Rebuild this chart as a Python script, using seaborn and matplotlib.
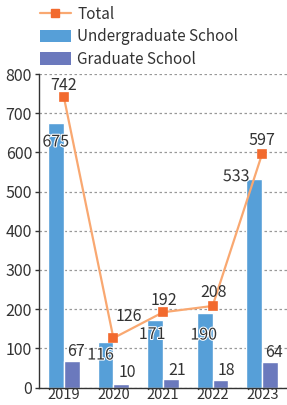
import matplotlib
matplotlib.use("Agg")
import matplotlib.pyplot as plt
import matplotlib.patheffects as pe
from matplotlib.lines import Line2D
from matplotlib.patches import Patch
import seaborn as sns
import pandas as pd

years = ["2019", "2020", "2021", "2022", "2023"]
undergrad = [675, 116, 171, 190, 533]
graduate = [67, 10, 21, 18, 64]
total = [742, 126, 192, 208, 597]

# label offsets (pixels) for readability
ug_offsets = [(0, -19), (-5, -13), (-3, -14), (-1, -22), (-18, 2)]
gr_offsets = [(4, 10), (6, 11), (6, 9), (6, 10), (4, 10)]
tot_offsets = [(0, 11), (15, 22), (1, 12), (1, 13), (0, 13)]

sns.set_style("white")
plt.rcParams["font.family"] = ["Noto Sans CJK JP", "DejaVu Sans"]

C_UG = "#569fd8"
C_GR = "#6b79bd"
C_LINE = "#f9a871"
C_MARK = "#f26a2e"
C_TXT = "#333333"

df = pd.DataFrame({
    "year": years * 2,
    "value": undergrad + graduate,
    "kind": ["Undergraduate School"] * 5 + ["Graduate School"] * 5,
})
dft = pd.DataFrame({"year": years, "value": total})

fig = plt.figure(figsize=(2.87, 4.05), dpi=100)
ax = fig.add_axes([39 / 287, 17.5 / 405, 248 / 287, 313.5 / 405])

sns.barplot(data=df, x="year", y="value", hue="kind",
            palette=[C_UG, C_GR], width=0.64, ax=ax, legend=False,
            saturation=1, order=years, zorder=2)
sns.pointplot(data=dft, x="year", y="value", order=years, color=C_LINE,
              markers="s", linewidth=1.6, markersize=5.5, ax=ax, zorder=4)
for ln in ax.lines:
    ln.set_markerfacecolor(C_MARK)
    ln.set_markeredgecolor(C_MARK)

ax.set_xlim(-0.5, 4.5)
ax.set_ylim(0, 800)
ax.set_yticks(range(0, 801, 100))
ax.set_xlabel("")
ax.set_ylabel("")
ax.yaxis.grid(True, linestyle=(0, (2, 2)), color="#999999", linewidth=0.9)
ax.set_axisbelow(True)
for s in ["top", "right"]:
    ax.spines[s].set_visible(False)
for s in ["left", "bottom"]:
    ax.spines[s].set_color("#333333")
    ax.spines[s].set_linewidth(1.0)
ax.set_xticks([i + 0.5 for i in range(-1, 5)], minor=True)
ax.tick_params(axis="x", which="minor", length=4, color="#333333", width=1)
ax.tick_params(axis="x", which="major", length=0, pad=0.3, labelsize=10.5, labelcolor=C_TXT)
ax.tick_params(axis="y", length=3, color="#333333", width=1, pad=2,
               labelsize=11.5, labelcolor=C_TXT, left=True)

stroke = [pe.withStroke(linewidth=1.5, foreground="white")]
bw = 0.32
for i in range(len(years)):
    dx, dy = ug_offsets[i]
    ax.annotate(str(undergrad[i]), (i - bw / 2, undergrad[i]), xytext=(dx * 0.72, dy * 0.72),
                textcoords="offset points", ha="center", va="center",
                fontsize=11.5, color=C_TXT, path_effects=stroke, zorder=5)
    dx, dy = gr_offsets[i]
    ax.annotate(str(graduate[i]), (i + bw / 2, graduate[i]), xytext=(dx * 0.72, dy * 0.72),
                textcoords="offset points", ha="center", va="center",
                fontsize=11.5, color=C_TXT, zorder=5)
    dx, dy = tot_offsets[i]
    ax.annotate(str(total[i]), (i, total[i]), xytext=(dx * 0.72, dy * 0.72),
                textcoords="offset points", ha="center", va="center",
                fontsize=11.5, color=C_TXT, zorder=5)

handles = [
    Line2D([0], [0], color=C_LINE, lw=1.6, marker="s", markersize=5.5,
           markerfacecolor=C_MARK, markeredgecolor=C_MARK),
    Patch(facecolor=C_UG, edgecolor="none"),
    Patch(facecolor=C_GR, edgecolor="none"),
]
labels = ["Total", "Undergraduate School", "Graduate School"]
fig.legend(handles, labels, loc="upper left", bbox_to_anchor=(37 / 287, 1.0 - 3 / 405),
           frameon=False, fontsize=11, handlelength=2.0, handleheight=0.9,
           handletextpad=0.45, labelspacing=0.35, borderaxespad=0, borderpad=0.2,
           labelcolor=C_TXT)

fig.savefig("out.png", dpi=100)
